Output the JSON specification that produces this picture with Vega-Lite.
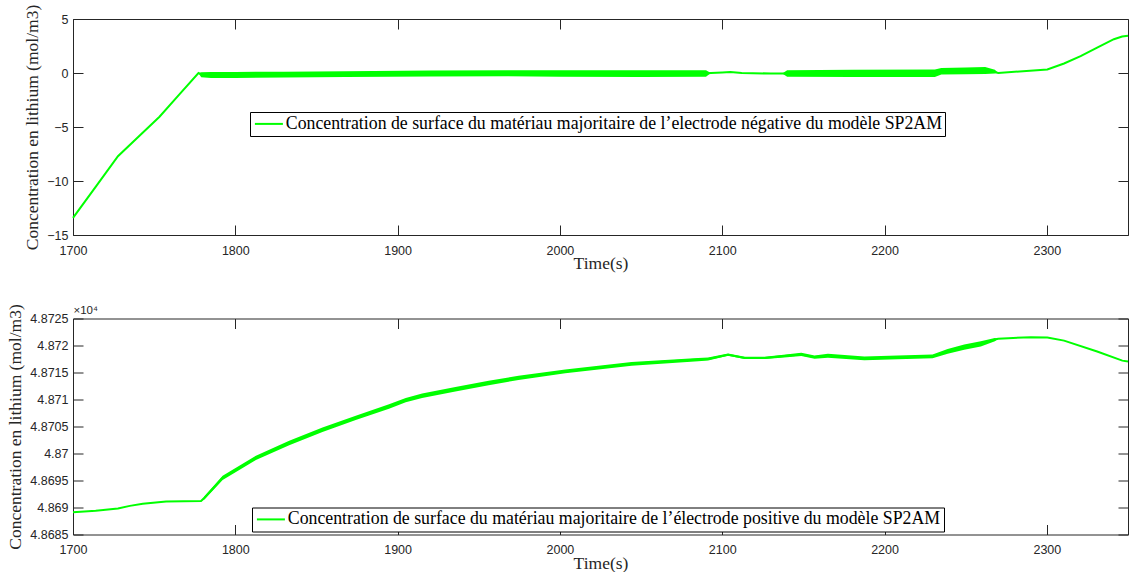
{
  "$schema": "https://vega.github.io/schema/vega-lite/v6.json",
  "background": "white",
  "padding": {"left": 6, "top": 4, "right": 2, "bottom": 0},
  "spacing": 31.5,
  "config": {
    "view": {"stroke": null},
    "axis": {
      "domainColor": "#262626", "tickColor": "#262626", "labelColor": "#262626",
      "labelFont": "Liberation Sans", "labelFontSize": 12.5,
      "titleFont": "Liberation Serif", "titleFontSize": 17.5, "titleFontWeight": "normal", "titleColor": "#262626",
      "grid": false, "tickSize": -10, "labelFlush": false, "labelOverlap": false,
      "domainWidth": 1, "tickWidth": 1
    },
    "axisX": {"labelPadding": 19, "titlePadding": -2, "format": "d"},
    "axisY": {"labelPadding": 15, "titlePadding": 5},
    "legend": {
      "orient": "none", "title": null, "symbolType": "M-2,0H2", "symbolStrokeWidth": 2, "symbolSize": 196, "symbolOffset": 7,
      "labelFont": "Liberation Serif", "labelFontSize": 17.8, "labelColor": "#000",
      "strokeColor": "#000", "fillColor": "#fff", "padding": 3, "labelOffset": 8, "labelLimit": 2000
    }
  },
  "resolve": {"scale": {"color": "independent"}, "legend": {"color": "independent"}},
  "vconcat": [
    {
      "width": 1055, "height": 216,
      "data": {"values": [
        {"t": 1700, "c": -13.42, "lo": -13.42, "hi": -13.42},
        {"t": 1714.4, "c": -10.45, "lo": -10.45, "hi": -10.45},
        {"t": 1727.7, "c": -7.71, "lo": -7.71, "hi": -7.71},
        {"t": 1740, "c": -5.95, "lo": -5.95, "hi": -5.95},
        {"t": 1753.3, "c": -4.05, "lo": -4.05, "hi": -4.05},
        {"t": 1765, "c": -2.07, "lo": -2.07, "hi": -2.07},
        {"t": 1777.3, "c": 0, "lo": 0, "hi": 0},
        {"t": 1779, "c": -0.15, "lo": -0.4, "hi": 0.08},
        {"t": 1785, "c": -0.18, "lo": -0.47, "hi": 0.1},
        {"t": 1800, "c": -0.18, "lo": -0.47, "hi": 0.1},
        {"t": 1830, "c": -0.15, "lo": -0.42, "hi": 0.12},
        {"t": 1868, "c": -0.1, "lo": -0.37, "hi": 0.16},
        {"t": 1920, "c": -0.05, "lo": -0.33, "hi": 0.22},
        {"t": 1968, "c": -0.03, "lo": -0.31, "hi": 0.25},
        {"t": 2000, "c": -0.05, "lo": -0.35, "hi": 0.25},
        {"t": 2050, "c": -0.06, "lo": -0.37, "hi": 0.25},
        {"t": 2090, "c": -0.05, "lo": -0.35, "hi": 0.25},
        {"t": 2093, "c": 0, "lo": 0, "hi": 0},
        {"t": 2100, "c": 0.05, "lo": 0.05, "hi": 0.05},
        {"t": 2105, "c": 0.1, "lo": 0.1, "hi": 0.1},
        {"t": 2112, "c": 0, "lo": 0, "hi": 0},
        {"t": 2130, "c": -0.05, "lo": -0.05, "hi": -0.05},
        {"t": 2137, "c": -0.05, "lo": -0.05, "hi": -0.05},
        {"t": 2140, "c": -0.05, "lo": -0.35, "hi": 0.25},
        {"t": 2180, "c": -0.03, "lo": -0.37, "hi": 0.3},
        {"t": 2231, "c": -0.02, "lo": -0.37, "hi": 0.32},
        {"t": 2235, "c": 0.15, "lo": -0.15, "hi": 0.47},
        {"t": 2250, "c": 0.2, "lo": -0.12, "hi": 0.52},
        {"t": 2262, "c": 0.22, "lo": -0.1, "hi": 0.56},
        {"t": 2268, "c": 0.1, "lo": -0.05, "hi": 0.3},
        {"t": 2270, "c": 0, "lo": 0, "hi": 0},
        {"t": 2300.3, "c": 0.32, "lo": 0.32, "hi": 0.32},
        {"t": 2310.6, "c": 0.88, "lo": 0.88, "hi": 0.88},
        {"t": 2320.8, "c": 1.56, "lo": 1.56, "hi": 1.56},
        {"t": 2331, "c": 2.34, "lo": 2.34, "hi": 2.34},
        {"t": 2341.3, "c": 3.13, "lo": 3.13, "hi": 3.13},
        {"t": 2346.4, "c": 3.37, "lo": 3.37, "hi": 3.37},
        {"t": 2350, "c": 3.44, "lo": 3.44, "hi": 3.44}
      ]},
      "layer": [
        {
          "mark": {"type": "area", "color": "#00ff00", "opacity": 1},
          "encoding": {
            "x": {"field": "t", "type": "quantitative", "scale": {"domain": [1700, 2350], "nice": false, "zero": false},
                  "axis": {"orient": "bottom", "values": [1700, 1800, 1900, 2000, 2100, 2200, 2300], "title": "Time(s)"}},
            "y": {"field": "lo", "type": "quantitative", "scale": {"domain": [-15, 5], "nice": false, "zero": false},
                  "axis": {"orient": "left", "values": [-15, -10, -5, 0, 5], "title": "Concentration en lithium (mol/m3)"}},
            "y2": {"field": "hi"}
          }
        },
        {
          "mark": {"type": "line", "strokeWidth": 2},
          "encoding": {
            "x": {"field": "t", "type": "quantitative", "scale": {"domain": [1700, 2350], "nice": false, "zero": false},
                  "axis": {"orient": "top", "labels": false, "title": null, "values": [1700, 1800, 1900, 2000, 2100, 2200, 2300]}},
            "y": {"field": "c", "type": "quantitative", "scale": {"domain": [-15, 5], "nice": false, "zero": false},
                  "axis": {"orient": "right", "labels": false, "title": null, "values": [-15, -10, -5, 0, 5]}},
            "color": {"datum": "Concentration de surface du matériau majoritaire de l’electrode négative du modèle SP2AM",
                      "scale": {"range": ["#00ff00"]},
                      "legend": {"legendX": 177, "legendY": 93}}
          }
        }
      ],
      "resolve": {"axis": {"x": "independent", "y": "independent"}}
    },
    {
      "width": 1055, "height": 216,
      "data": {"values": [
        {"t": 1700, "c": 48689.1, "lo": 48689.1, "hi": 48689.1},
        {"t": 1714, "c": 48689.4, "lo": 48689.4, "hi": 48689.4},
        {"t": 1727.7, "c": 48689.8, "lo": 48689.8, "hi": 48689.8},
        {"t": 1735, "c": 48690.3, "lo": 48690.3, "hi": 48690.3},
        {"t": 1743, "c": 48690.7, "lo": 48690.7, "hi": 48690.7},
        {"t": 1757.4, "c": 48691.1, "lo": 48691.1, "hi": 48691.1},
        {"t": 1778.9, "c": 48691.2, "lo": 48691.2, "hi": 48691.2},
        {"t": 1781, "c": 48691.8, "lo": 48691.5, "hi": 48692.1},
        {"t": 1792.2, "c": 48695.5, "lo": 48695.1, "hi": 48695.9},
        {"t": 1812.7, "c": 48699.2, "lo": 48698.8, "hi": 48699.6},
        {"t": 1833.2, "c": 48701.95, "lo": 48701.55, "hi": 48702.35},
        {"t": 1853.7, "c": 48704.4, "lo": 48704.0, "hi": 48704.8},
        {"t": 1874.2, "c": 48706.6, "lo": 48706.2, "hi": 48707.0},
        {"t": 1894.7, "c": 48708.7, "lo": 48708.3, "hi": 48709.1},
        {"t": 1905, "c": 48709.9, "lo": 48709.5, "hi": 48710.3},
        {"t": 1915.1, "c": 48710.7, "lo": 48710.3, "hi": 48711.1},
        {"t": 1935.6, "c": 48711.9, "lo": 48711.5, "hi": 48712.3},
        {"t": 1956.1, "c": 48713.05, "lo": 48712.65, "hi": 48713.45},
        {"t": 1974.5, "c": 48714.0, "lo": 48713.6, "hi": 48714.4},
        {"t": 2003.3, "c": 48715.2, "lo": 48714.85, "hi": 48715.55},
        {"t": 2044.2, "c": 48716.6, "lo": 48716.25, "hi": 48716.95},
        {"t": 2085.2, "c": 48717.4, "lo": 48717.1, "hi": 48717.7},
        {"t": 2091.3, "c": 48717.5, "lo": 48717.2, "hi": 48717.8},
        {"t": 2103.6, "c": 48718.3, "lo": 48718.1, "hi": 48718.5},
        {"t": 2113.9, "c": 48717.7, "lo": 48717.5, "hi": 48717.9},
        {"t": 2126.2, "c": 48717.7, "lo": 48717.5, "hi": 48717.9},
        {"t": 2136.4, "c": 48718.0, "lo": 48717.75, "hi": 48718.25},
        {"t": 2148.7, "c": 48718.35, "lo": 48718.05, "hi": 48718.65},
        {"t": 2156.9, "c": 48717.85, "lo": 48717.55, "hi": 48718.15},
        {"t": 2165.1, "c": 48718.1, "lo": 48717.75, "hi": 48718.45},
        {"t": 2187.6, "c": 48717.6, "lo": 48717.25, "hi": 48717.95},
        {"t": 2208.1, "c": 48717.8, "lo": 48717.45, "hi": 48718.15},
        {"t": 2229.6, "c": 48718.0, "lo": 48717.65, "hi": 48718.35},
        {"t": 2238.9, "c": 48718.9, "lo": 48718.45, "hi": 48719.35},
        {"t": 2249.1, "c": 48719.7, "lo": 48719.2, "hi": 48720.2},
        {"t": 2259.3, "c": 48720.3, "lo": 48719.8, "hi": 48720.8},
        {"t": 2268, "c": 48721.1, "lo": 48720.8, "hi": 48721.4},
        {"t": 2270, "c": 48721.25, "lo": 48721.25, "hi": 48721.25},
        {"t": 2290.1, "c": 48721.55, "lo": 48721.55, "hi": 48721.55},
        {"t": 2300.3, "c": 48721.5, "lo": 48721.5, "hi": 48721.5},
        {"t": 2310.6, "c": 48720.9, "lo": 48720.9, "hi": 48720.9},
        {"t": 2331, "c": 48718.9, "lo": 48718.9, "hi": 48718.9},
        {"t": 2346.5, "c": 48717.2, "lo": 48717.2, "hi": 48717.2},
        {"t": 2350, "c": 48717.05, "lo": 48717.05, "hi": 48717.05}
      ]},
      "layer": [
        {
          "mark": {"type": "area", "color": "#00ff00", "opacity": 1},
          "encoding": {
            "x": {"field": "t", "type": "quantitative", "scale": {"domain": [1700, 2350], "nice": false, "zero": false},
                  "axis": {"orient": "bottom", "values": [1700, 1800, 1900, 2000, 2100, 2200, 2300], "title": "Time(s)"}},
            "y": {"field": "lo", "type": "quantitative", "scale": {"domain": [48685, 48725], "nice": false, "zero": false},
                  "axis": {"orient": "left", "values": [48685, 48690, 48695, 48700, 48705, 48710, 48715, 48720, 48725],
                           "labelExpr": "format(datum.value / 10000, '~g')", "title": "Concentration en lithium (mol/m3)"}},
            "y2": {"field": "hi"}
          }
        },
        {
          "mark": {"type": "line", "strokeWidth": 2},
          "encoding": {
            "x": {"field": "t", "type": "quantitative", "scale": {"domain": [1700, 2350], "nice": false, "zero": false},
                  "axis": {"orient": "top", "labels": false, "values": [1700, 1800, 1900, 2000, 2100, 2200, 2300],
                           "title": "×10⁴", "titleX": 0, "titleY": -3, "titleAlign": "left", "titleAnchor": "start", "titleBaseline": "bottom", "titleAngle": 0,
                           "titleFont": "Liberation Sans", "titleFontSize": 11.5, "titleColor": "#262626"}},
            "y": {"field": "c", "type": "quantitative", "scale": {"domain": [48685, 48725], "nice": false, "zero": false},
                  "axis": {"orient": "right", "labels": false, "title": null, "values": [48685, 48690, 48695, 48700, 48705, 48710, 48715, 48720, 48725]}},
            "color": {"datum": "Concentration de surface du matériau majoritaire de l’électrode positive du modèle SP2AM",
                      "scale": {"range": ["#00ff00"]},
                      "legend": {"legendX": 179, "legendY": 189}}
          }
        }
      ],
      "resolve": {"axis": {"x": "independent", "y": "independent"}}
    }
  ]
}
